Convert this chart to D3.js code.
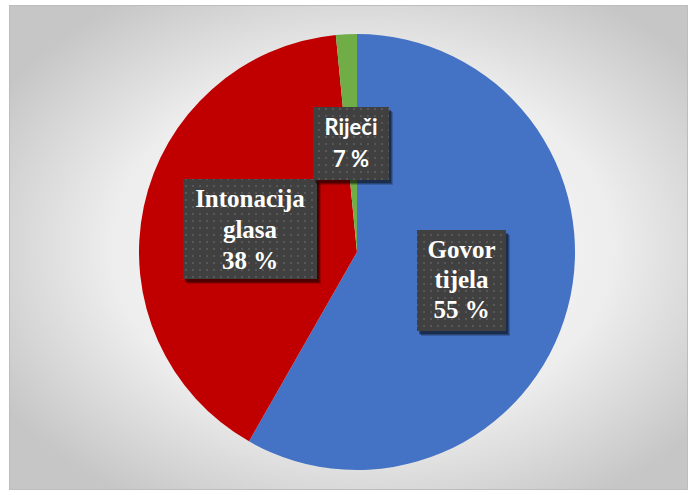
<!DOCTYPE html>
<html>
<head>
<meta charset="UTF-8">
<script src="https://cdn.jsdelivr.net/npm/d3@7"></script>
</head>
<body style="margin:0; background:white">
<svg id="chart" width="693" height="495"></svg>
<script>
// slice shares as drawn in the picture (percent of the circle)
const categories = ["Govor tijela", "Intonacija glasa", "Riječi"];
const values = [58.25, 40.2, 1.55];
const colorsList = ["#4472c4", "#c00000", "#70ad47"];
// label text as printed on the chart
const labelLines = [["Govor", "tijela", "55 %"], ["Intonacija", "glasa", "38 %"], ["Riječi", "7 %"]];
const labelFonts = ["Liberation Serif", "Liberation Serif", "Lato"];

const w = 693, h = 495;
const cx = 357, cy = 252, r = 218;

const svg = d3.select('#chart');

const defs = svg.append('defs');
const grad = defs.append('radialGradient').attr('id', 'bg')
  .attr('cx', '52%').attr('cy', '50%').attr('r', '62%');
grad.append('stop').attr('offset', '0%').attr('stop-color', '#ffffff');
grad.append('stop').attr('offset', '60%').attr('stop-color', '#ededed');
grad.append('stop').attr('offset', '100%').attr('stop-color', '#c6c6c6');

const pat = defs.append('pattern').attr('id', 'dots')
  .attr('width', 7).attr('height', 7).attr('patternUnits', 'userSpaceOnUse');
pat.append('rect').attr('width', 7).attr('height', 7).attr('fill', '#404040');
pat.append('rect').attr('x', 3).attr('y', 3).attr('width', 2).attr('height', 2).attr('fill', '#575757');

// chart area
svg.append('rect')
  .attr('x', 9.5).attr('y', 5.5).attr('width', 678).attr('height', 484)
  .attr('fill', 'url(#bg)').attr('stroke', '#bdbdbd');

const data = categories.map((c, i) => ({ name: c, value: values[i], color: colorsList[i], lines: labelLines[i], font: labelFonts[i] }));

const pie = d3.pie().sort(null).value(d => d.value);
const arc = d3.arc().innerRadius(0).outerRadius(r);

const g = svg.append('g').attr('transform', `translate(${cx},${cy})`);
g.selectAll('path')
  .data(pie(data))
  .enter()
  .append('path')
  .attr('d', arc)
  .attr('fill', d => d.data.color);

// label boxes (x, y = box top-left, box size)
const boxes = [
  { x: 417, y: 230, bw: 89, bh: 101, size: 25, lh: 30, first: 28 },
  { x: 183, y: 179, bw: 134, bh: 100, size: 25, lh: 31, first: 28 },
  { x: 313, y: 107, bw: 76, bh: 73, size: 22, lh: 32, first: 28 }
];

data.forEach((d, i) => {
  const b = boxes[i];
  // soft shadow drawn as offset translucent rects
  [4, 3, 2].forEach((o, k) => {
    svg.append('rect')
      .attr('x', b.x + o).attr('y', b.y + o + 1).attr('width', b.bw).attr('height', b.bh)
      .attr('fill', 'black').attr('opacity', 0.18 + k * 0.08);
  });
  svg.append('rect')
    .attr('x', b.x).attr('y', b.y).attr('width', b.bw).attr('height', b.bh)
    .attr('fill', 'url(#dots)');
  d.lines.forEach((t, j) => {
    svg.append('text')
      .attr('x', b.x + b.bw / 2)
      .attr('y', b.y + b.first + j * b.lh)
      .attr('text-anchor', 'middle')
      .attr('fill', 'white')
      .style('font-family', `"${d.font}"`)
      .style('font-weight', 'bold')
      .style('font-size', b.size + 'px')
      .text(t);
  });
});
</script>
</body>
</html>
